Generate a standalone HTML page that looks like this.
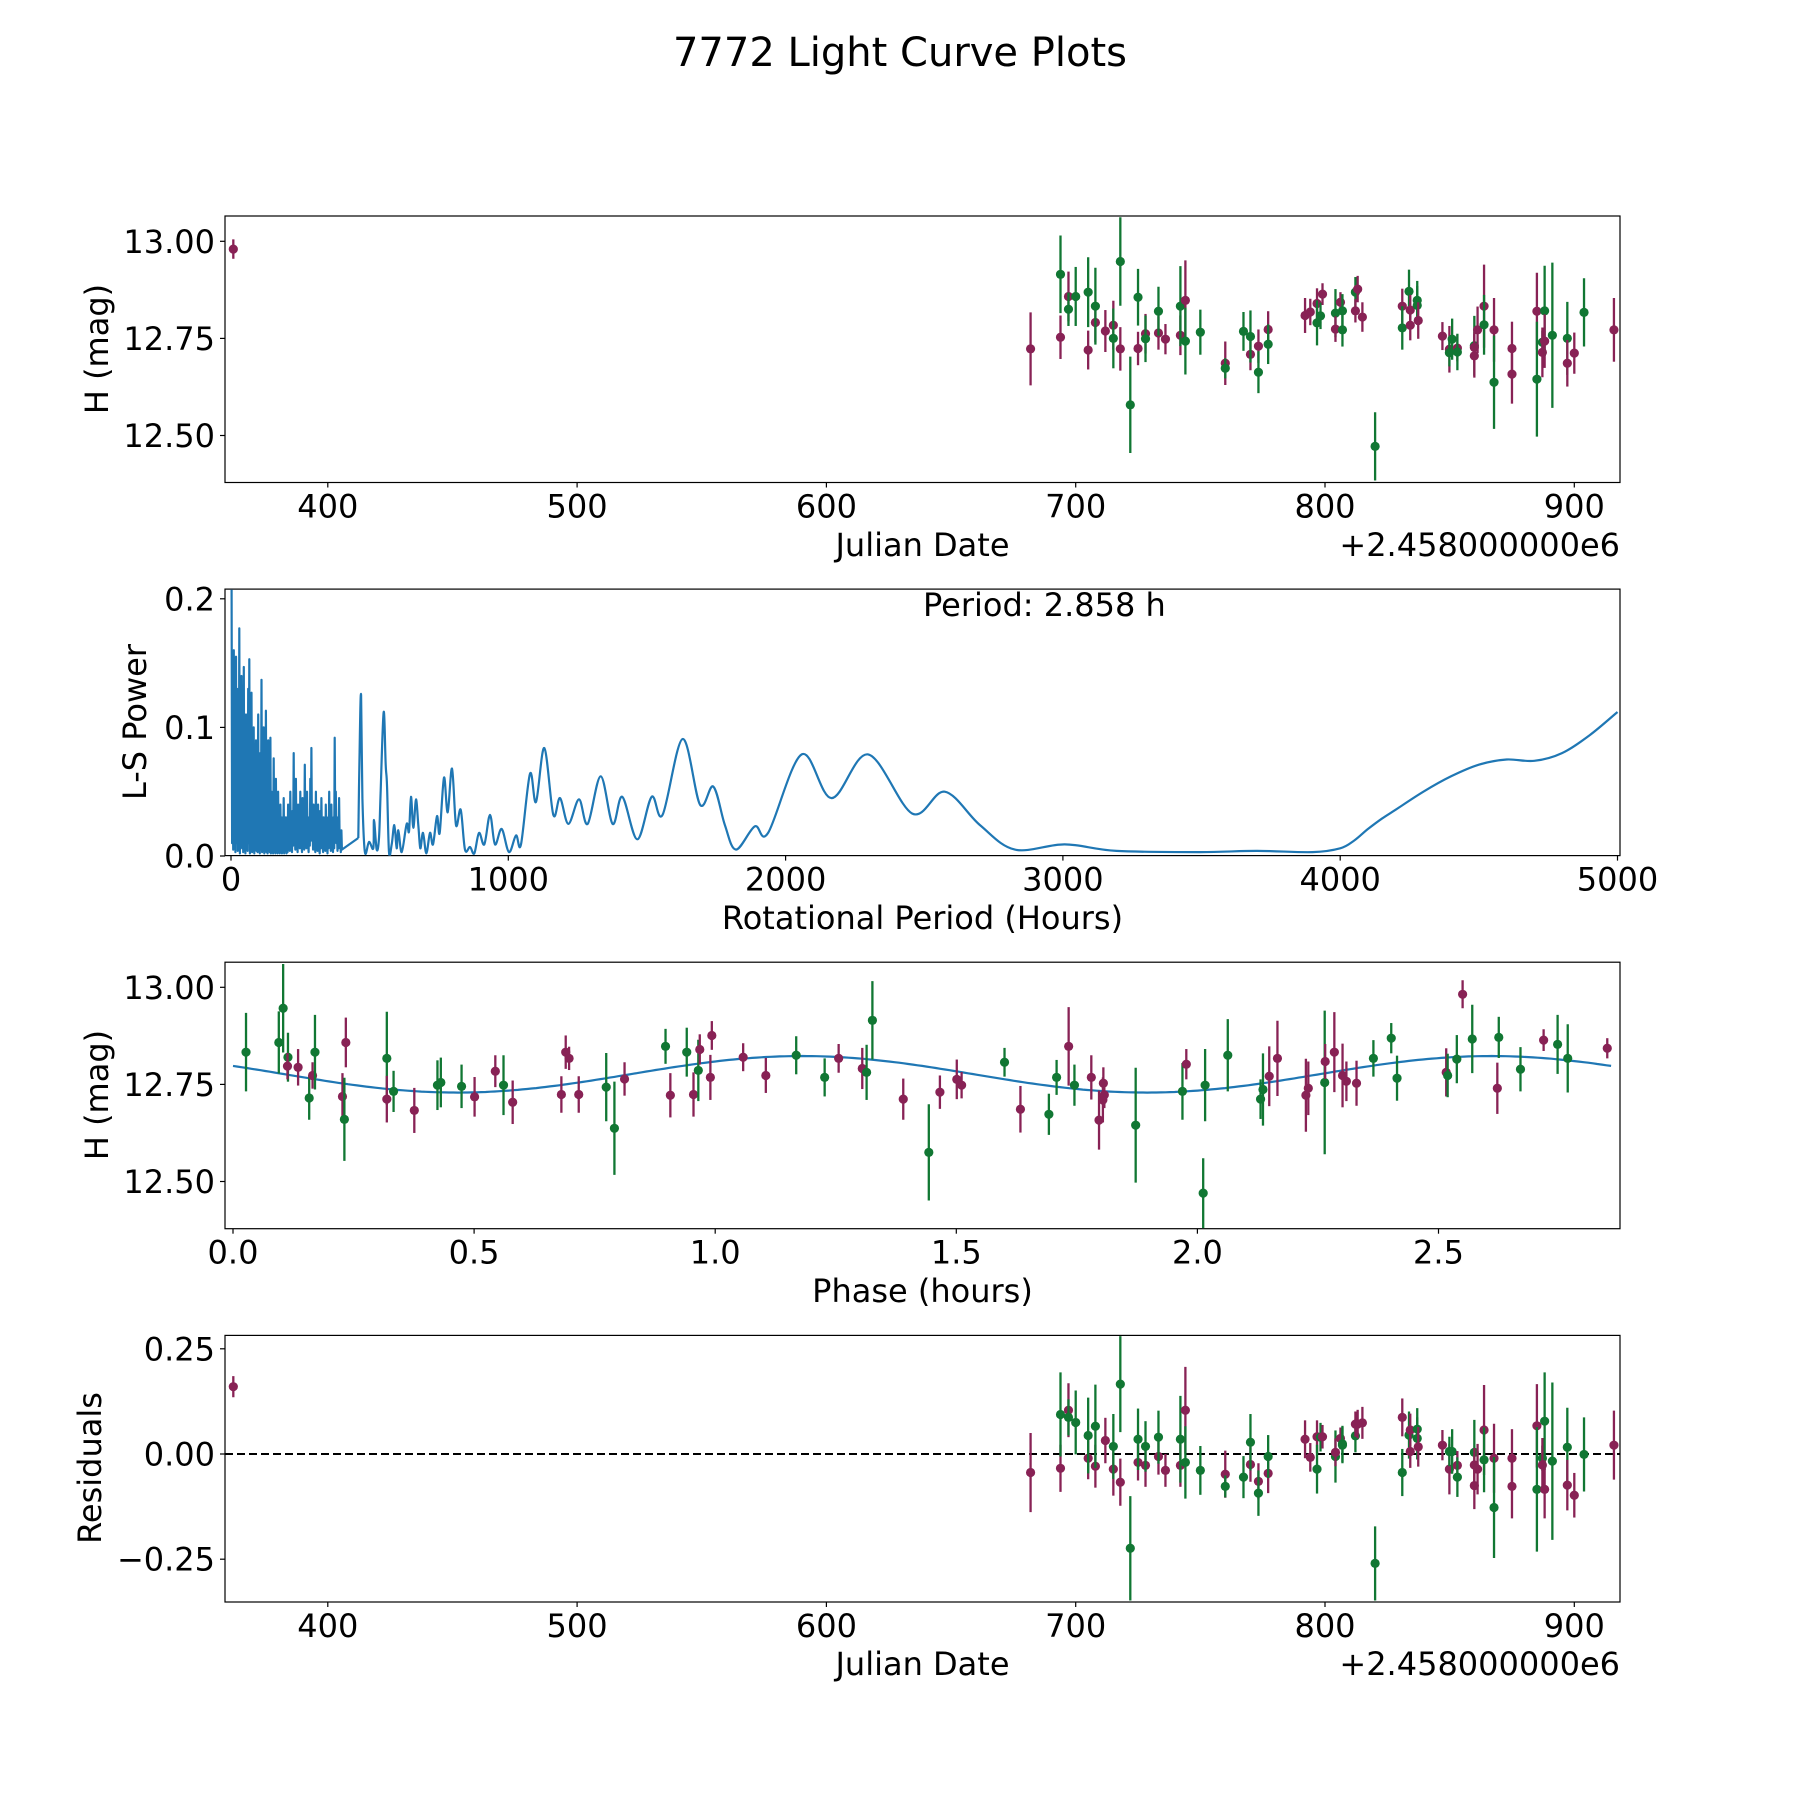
<!DOCTYPE html>
<html><head><meta charset="utf-8"><title>7772 Light Curve Plots</title>
<style>
html,body{margin:0;padding:0;background:#fff;}
svg{display:block;}
text{font-family:"DejaVu Sans","Liberation Sans",sans-serif;fill:#000;}
</style></head>
<body>
<svg id="fig" width="1800" height="1800" viewBox="0 0 1800 1800" xmlns="http://www.w3.org/2000/svg">
<rect x="0" y="0" width="1800" height="1800" fill="#fff"/>
<text x="900" y="66" font-size="40" text-anchor="middle">7772 Light Curve Plots</text>
</svg>
<script>
// ---------- Data: light curve (Julian date offset from 2458000) ----------
const jd = [362.1,681.9,693.9,693.9,697.1,697.1,700.0,705.0,705.0,707.9,707.9,711.9,715.1,715.1,717.9,717.9,721.9,725.0,725.0,728.0,728.0,733.2,733.2,736.0,742.0,742.0,744.0,744.0,750.0,760.0,760.0,767.3,770.1,770.1,773.3,773.3,777.2,777.2,792.0,794.1,796.8,796.8,798.2,799.0,804.2,804.2,806.2,807.0,807.0,812.2,812.2,813.1,815.0,820.1,831.0,831.0,833.7,834.2,834.2,837.0,837.0,837.4,847.1,849.9,849.9,851.0,853.1,853.1,859.9,859.9,859.9,861.2,863.8,863.8,867.8,867.8,875.0,875.0,885.0,885.0,887.2,887.2,888.1,888.1,891.2,897.2,897.2,900.0,903.9,915.9];
const mag = [12.980,12.723,12.753,12.915,12.858,12.825,12.858,12.720,12.869,12.791,12.833,12.769,12.784,12.750,12.948,12.723,12.579,12.724,12.856,12.762,12.749,12.764,12.820,12.748,12.758,12.833,12.848,12.743,12.766,12.686,12.673,12.768,12.709,12.755,12.730,12.663,12.773,12.735,12.809,12.818,12.840,12.790,12.808,12.864,12.815,12.774,12.843,12.821,12.772,12.869,12.821,12.877,12.805,12.472,12.833,12.777,12.871,12.823,12.784,12.848,12.835,12.796,12.756,12.722,12.713,12.748,12.725,12.715,12.731,12.727,12.705,12.772,12.833,12.785,12.772,12.637,12.724,12.658,12.820,12.645,12.740,12.714,12.821,12.743,12.758,12.750,12.686,12.712,12.817,12.772];
const magErr = [.025,.094,.056,.100,.064,.043,.076,.050,.090,.051,.099,.054,.063,.077,.114,.056,.124,.043,.073,.051,.060,.043,.063,.039,.051,.103,.103,.086,.058,.056,.026,.050,.041,.067,.043,.054,.047,.051,.045,.034,.039,.058,.034,.028,.062,.033,.026,.043,.043,.039,.030,.034,.038,.088,.045,.056,.056,.039,.039,.050,.050,.047,.036,.060,.035,.053,.034,.047,.077,.040,.056,.060,.107,.077,.082,.120,.069,.076,.099,.148,.030,.064,.116,.069,.187,.094,.060,.053,.088,.082];
const band = ["P","P","P","G","P","G","G","P","G","P","G","P","P","G","G","P","G","P","G","P","G","P","G","P","P","G","P","G","G","P","G","G","P","G","P","G","P","G","P","P","P","G","G","P","G","P","P","G","G","G","P","P","P","G","P","G","G","P","P","G","G","P","P","P","G","G","P","G","G","P","P","P","P","G","P","G","P","P","P","G","G","P","G","P","G","G","P","P","G","P"];
const resid = [.160,-.044,-.034,.094,.104,.087,.075,-.010,.044,-.029,.066,.032,-.036,.018,.166,-.067,-.224,-.020,.035,-.027,.018,-.006,.040,-.039,-.027,.035,.104,-.020,-.039,-.048,-.077,-.055,-.025,.028,-.065,-.093,-.046,-.006,.035,-.008,.041,-.036,.040,.041,-.006,.004,.037,.024,.021,.043,.071,.071,.074,-.260,.087,-.044,.045,.057,.006,.059,.037,.017,.021,-.036,.006,.006,-.027,-.055,.004,-.026,-.075,-.036,.057,-.014,-.010,-.127,-.010,-.077,.067,-.084,-.010,-.026,.078,-.084,-.017,.016,-.074,-.098,-.001,.021];

// ---------- Data: folded light curve ----------
const phPhase = [0.027,0.095,0.104,0.114,0.113,0.135,0.158,0.165,0.170,0.227,0.234,0.231,0.319,0.319,0.333,0.376,0.424,0.431,0.474,0.501,0.544,0.561,0.580,0.681,0.690,0.697,0.717,0.774,0.791,0.812,0.897,0.907,0.941,0.955,0.965,0.968,0.990,0.993,1.058,1.105,1.168,1.227,1.256,1.305,1.314,1.326,1.390,
1.443,1.466,1.501,1.511,1.600,1.633,1.692,1.708,1.733,1.745,1.780,1.796,1.804,1.805,1.807,1.872,1.969,1.977,2.012,2.016,2.063,2.131,2.136,2.149,2.166,2.225,2.230,2.264,2.265,2.284,2.301,2.309,2.330,2.365,2.402,2.414,2.516,2.519,2.538,2.550,2.570,2.622,2.625,2.670,2.718,2.747,2.768,2.850];
const phMag = [12.833,12.858,12.946,12.820,12.797,12.794,12.715,12.773,12.833,12.719,12.858,12.660,12.817,12.712,12.732,12.683,12.748,12.755,12.745,12.718,12.784,12.748,12.704,12.724,12.833,12.817,12.724,12.743,12.637,12.764,12.848,12.722,12.833,12.724,12.786,12.840,12.768,12.876,12.820,12.773,12.825,12.768,12.817,12.791,12.781,12.915,12.712,
12.575,12.730,12.763,12.748,12.807,12.686,12.673,12.768,12.848,12.748,12.768,12.658,12.710,12.753,12.723,12.645,12.732,12.802,12.470,12.748,12.825,12.712,12.737,12.771,12.817,12.722,12.740,12.755,12.809,12.833,12.773,12.758,12.753,12.817,12.869,12.766,12.781,12.773,12.815,12.982,12.867,12.740,12.871,12.789,12.864,12.853,12.817,12.843];
const phErr = [.101,.080,.114,.063,.034,.047,.056,.034,.096,.060,.064,.107,.120,.060,.053,.058,.064,.064,.056,.051,.041,.077,.056,.047,.043,.030,.047,.088,.120,.043,.045,.057,.063,.057,.079,.039,.058,.037,.036,.045,.049,.049,.037,.053,.071,.101,.053,
.124,.043,.051,.034,.037,.060,.053,.045,.101,.053,.057,.076,.058,.041,.034,.148,.073,.039,.090,.093,.093,.051,.093,.077,.097,.094,.069,.185,.045,.103,.082,.051,.058,.047,.039,.058,.062,.056,.062,.036,.088,.066,.053,.057,.028,.076,.088,.026];
const phBand = ["G","G","G","G","P","P","G","P","G","P","P","G","G","P","G","P","G","G","G","P","P","G","P","P","P","P","P","G","G","P","G","P","G","P","G","P","P","P","P","P","G","G","P","P","G","G","P",
"G","P","P","P","G","P","G","G","P","G","P","P","P","P","P","G","G","P","G","G","G","G","G","P","P","P","P","G","P","P","P","P","P","G","G","G","P","G","G","P","G","P","G","G","P","G","G","P"];
// fitted sinusoid (double-peaked over the 2.858 h period)
const fitPeriod = [2.858];
const fitMean = [12.776];
const fitAmp = [0.047];
const fitPeakPhase = [1.18];

// ---------- Data: Lomb-Scargle periodogram ----------
const lsDensePower = [.207,.09,.16,.12,.155,.13,.12,.177,.10,.14,.09,.147,.08,.11,.10,.13,.153,.07,.127,.09,.10,.06,.09,.08,.11,
.06,.08,.137,.07,.10,.05,.113,.06,.09,.05,.092,.05,.04,.076,.03,.06,.03,.05,.02,.04,.03,.02,.045,.02,.03,
.02,.04,.02,.05,.01,.035,.08,.02,.06,.01,.04,.03,.05,.01,.045,.02,.071,.03,.05,.01,.03,.06,.084,.02,.04,
.01,.05,.02,.04,.005,.035,.045,.01,.03,.02,.04,.01,.03,.05,.02,.04,.01,.03,.092,.05,.02,.03,.045,.01,.02];
const lsDenseTrough = [.01,.005,.02,.003,.01,.004,.015,.002,.01,.006,.003,.012,.002,.008,.004,.01,.002,.006,.003,.009,.002,.005,.004,.003,.006,
.002,.005,.003,.004,.002,.006,.003,.002,.004,.003,.002,.005,.002,.003,.002,.004,.002,.003,.002,.004,.002,.003,.002,.004,.002,
.003,.01,.004,.012,.003,.008,.01,.005,.012,.003,.008,.006,.01,.003,.01,.005,.012,.006,.01,.003,.008,.012,.015,.005,.008,
.003,.01,.004,.008,.002,.006,.01,.003,.006,.004,.008,.002,.006,.01,.004,.008,.003,.006,.012,.01,.004,.006,.008,.003,.005];
const lsSmoothPeriod = [459,464,469,474,483,497.7,513.3,515.7,525.3,533.7,539.7,550.6,557.8,562.6,569.8,579.4,589,597.4,603.4,615.5,633.5,641.9,649.1,657.5,667.1,675.6,682.8,692.4,704.4,717.6,728.4,742.9,752.5,768.1,781.3,797,811.4,828.2,843.8,861.9,877.5,894.3,913.6,934,952,976.1,1002.5,1027.7,1045.8,1078.2,1099.9,1130,1162.4,1186.4,1216.5,1254.9,1286.2,1333.1,1376.3,1411.2,1465.3,1517,1556.6,1628.7,1691.3,1739.3,1781,1821,1889,1937,2058,2166,2298,2457,2574,2701,2827,3007,3193,3494,3700,3900,4000,4050,4100,4150,4200,4300,4400,4500,4600,4700,4800,4900,5000];
const lsSmoothPower = [.014,.086,.125,.045,.003,.011,.006,.028,.005,.014,.051,.112,.071,.055,.003,.009,.024,.006,.020,.003,.025,.019,.046,.022,.044,.024,.006,.018,.002,.018,.009,.031,.018,.061,.034,.068,.024,.036,.005,.007,.002,.018,.009,.032,.009,.021,.003,.016,.009,.064,.042,.084,.032,.045,.025,.044,.025,.062,.025,.046,.013,.046,.032,.091,.040,.054,.024,.005,.023,.018,.079,.045,.079,.033,.050,.024,.005,.009,.004,.003,.004,.003,.006,.012,.021,.029,.036,.050,.062,.071,.075,.074,.080,.094,.112];

// tick labels
const dateTicks = [400,500,600,700,800,900];
const magTicks = [13.00,12.75,12.50];
const lsXTicks = [0,1000,2000,3000,4000,5000];
const lsYTicks = [0.0,0.1,0.2];
const phaseTicks = [0.0,0.5,1.0,1.5,2.0,2.5];
const residTicks = [0.25,0.00,-0.25];

// ---------- Layout ----------
const NS = "http://www.w3.org/2000/svg";
const svg = document.getElementById("fig");
const L = 225, R = 1620;
const AX = [
  {top:216, bot:482.5},
  {top:589.1, bot:855.6},
  {top:962.2, bot:1228.7},
  {top:1335.4, bot:1602}
];
const COL = {P:"#882255", G:"#117733"};
const xDate = d => 1325 + (d - 800) * 2.493;
const yMagTop = m => 241.3 + (13 - m) * 388.4;
const yMagPh = m => 987.3 + (13 - m) * 388.4;
const xPer = p => 231 + p * 0.2773;
const yPow = p => 856 - p * 1286;
const xPh = p => 233.0 + p * 482.2;
const yRes = r => 1454 - r * 420.8;

function mk(tag, attrs, parent) {
  const e = document.createElementNS(NS, tag);
  for (const k in attrs) e.setAttribute(k, attrs[k]);
  (parent || svg).appendChild(e);
  return e;
}
function fmt2(v){ const s = v.toFixed(2); return v < 0 ? "\u2212" + s.slice(1) : s; }

const defs = mk("defs", {});
AX.forEach((a, i) => {
  const cp = mk("clipPath", {id: "clip" + i}, defs);
  mk("rect", {x: L, y: a.top, width: R - L, height: a.bot - a.top}, cp);
});

function axesFrame(i, name) {
  const a = AX[i];
  const g = mk("g", {});
  
  
  const fr = mk("rect", {x: L, y: a.top, width: R - L, height: a.bot - a.top, fill: "none", stroke: "#000", "stroke-width": 1.2}, g);
  
  
  return g;
}
function xTicks(i, vals, fx, labelFn, name) {
  const a = AX[i];
  const g = mk("g", {});
  
  
  vals.forEach(v => {
    const x = fx(v);
    const t = mk("line", {x1: x, x2: x, y1: a.bot, y2: a.bot + 5, stroke: "#000", "stroke-width": 1.2}, g);
    
    
    const tx = mk("text", {x: x, y: a.bot + 35, "font-size": 32, "text-anchor": "middle"}, g);
    
    
    tx.textContent = labelFn(v);
  });
}
function yTicks(i, vals, fy, labelFn, name) {
  const g = mk("g", {});
  
  
  vals.forEach(v => {
    const y = fy(v);
    const t = mk("line", {x1: L - 5, x2: L, y1: y, y2: y, stroke: "#000", "stroke-width": 1.2}, g);
    
    
    const tx = mk("text", {x: L - 10, y: y + 11.5, "font-size": 32, "text-anchor": "end"}, g);
    
    
    tx.textContent = labelFn(v);
  });
}
function label(x, y, txt, name, rot, anchor) {
  const t = mk("text", {x: x, y: y, "font-size": 32, "text-anchor": anchor || "middle"});
  if (rot) t.setAttribute("transform", "rotate(-90 " + x + " " + y + ")");
  
  
  t.textContent = txt;
  return t;
}
function errPoints(i, xs, ys, es, bands, fx, fy, name) {
  const g = mk("g", {"clip-path": "url(#clip" + i + ")"});
  
  
  for (let k = 0; k < xs.length; k++) {
    const x = fx(xs[k]), c = COL[bands[k]];
    const eb = mk("line", {x1: x, x2: x, y1: fy(ys[k] + es[k]), y2: fy(ys[k] - es[k]), stroke: c, "stroke-width": 2.3}, g);
    
    
    const p = mk("circle", {cx: x, cy: fy(ys[k]), r: 4.6, fill: c}, g);
    
    
  }
}
const ylabelX1 = 108, ylabelX2 = 146;

// ---------- Panel 1: H vs Julian date ----------
axesFrame(0, "lightcurve-axes");
xTicks(0, dateTicks, xDate, v => String(v), "lightcurve-x-ticks");
yTicks(0, magTicks, yMagTop, v => v.toFixed(2), "lightcurve-y-ticks");
errPoints(0, jd, mag, magErr, band, xDate, yMagTop, "lightcurve-points");
label(922.5, 556, "Julian Date", "lightcurve-x-title");
label(1620, 556, "+2.458000000e6", "lightcurve-offset-text", false, "end");
label(ylabelX1, 349, "H (mag)", "lightcurve-y-title", true);

// ---------- Panel 2: periodogram ----------
axesFrame(1, "periodogram-axes");
xTicks(1, lsXTicks, xPer, v => String(v), "periodogram-x-ticks");
yTicks(1, lsYTicks, yPow, v => v.toFixed(1), "periodogram-y-ticks");
(function(){
  // dense short-period part: straight segments alternating peak/trough
  let d1 = "";
  for (let k = 0; k < lsDensePower.length; k++) {
    d1 += (k ? " L" : "M") + xPer(2 + 4 * k).toFixed(1) + "," + yPow(lsDensePower[k]).toFixed(1);
    d1 += " L" + xPer(4 + 4 * k).toFixed(1) + "," + yPow(lsDenseTrough[k]).toFixed(1);
  }
  d1 += " L" + xPer(lsSmoothPeriod[0]).toFixed(1) + "," + yPow(lsSmoothPower[0]).toFixed(1);
  const dense = mk("path", {d: d1, fill: "none", stroke: "#1f77b4", "stroke-width": 2.2, "stroke-linejoin": "round", "clip-path": "url(#clip1)"});
  
  

  const pts = [];
  for (let k = 0; k < lsSmoothPeriod.length; k++) pts.push([xPer(lsSmoothPeriod[k]), yPow(lsSmoothPower[k])]);
  let d = "M" + pts[0][0].toFixed(1) + "," + pts[0][1].toFixed(1);
  for (let k = 0; k < pts.length - 1; k++) {
    const p0 = pts[Math.max(0, k - 1)], p1 = pts[k], p2 = pts[k + 1], p3 = pts[Math.min(pts.length - 1, k + 2)];
    const c1x = p1[0] + (p2[0] - p0[0]) / 6, c1y = p1[1] + (p2[1] - p0[1]) / 6;
    const c2x = p2[0] - (p3[0] - p1[0]) / 6, c2y = p2[1] - (p3[1] - p1[1]) / 6;
    d += " C" + c1x.toFixed(1) + "," + c1y.toFixed(1) + " " + c2x.toFixed(1) + "," + c2y.toFixed(1) + " " + p2[0].toFixed(1) + "," + p2[1].toFixed(1);
  }
  const path = mk("path", {d: d, fill: "none", stroke: "#1f77b4", "stroke-width": 2.2, "stroke-linejoin": "round", "clip-path": "url(#clip1)"});
  
  
})();
label(923, 616, "Period: 2.858 h", "period-annotation", false, "start");
label(922.5, 929, "Rotational Period (Hours)", "periodogram-x-title");
label(ylabelX2, 722, "L-S Power", "periodogram-y-title", true);

// ---------- Panel 3: phased light curve ----------
axesFrame(2, "phase-axes");
xTicks(2, phaseTicks, xPh, v => v.toFixed(1), "phase-x-ticks");
yTicks(2, magTicks, yMagPh, v => v.toFixed(2), "phase-y-ticks");
(function(){
  let d = "";
  const P = fitPeriod[0];
  for (let k = 0; k <= 300; k++) {
    const ph = P * k / 300;
    const m = fitMean[0] + fitAmp[0] * Math.cos(4 * Math.PI * (ph - fitPeakPhase[0]) / P);
    d += (k ? " L" : "M") + xPh(ph).toFixed(1) + "," + yMagPh(m).toFixed(1);
  }
  const path = mk("path", {d: d, fill: "none", stroke: "#1f77b4", "stroke-width": 2.2, "clip-path": "url(#clip2)"});
  
  
})();
errPoints(2, phPhase, phMag, phErr, phBand, xPh, yMagPh, "phase-points");
label(922.5, 1302, "Phase (hours)", "phase-x-title");
label(ylabelX1, 1095, "H (mag)", "phase-y-title", true);

// ---------- Panel 4: residuals ----------
axesFrame(3, "residual-axes");
xTicks(3, dateTicks, xDate, v => String(v), "residual-x-ticks");
yTicks(3, residTicks, yRes, fmt2, "residual-y-ticks");
(function(){
  const zl = mk("line", {x1: L, x2: R, y1: yRes(0), y2: yRes(0), stroke: "#000", "stroke-width": 2, "stroke-dasharray": "8,4"});
  
  
})();
errPoints(3, jd, resid, magErr, band, xDate, yRes, "residual-points");
label(922.5, 1675, "Julian Date", "residual-x-title");
label(1620, 1675, "+2.458000000e6", "residual-offset-text", false, "end");
label(101, 1468, "Residuals", "residual-y-title", true);
</script>
</body></html>
